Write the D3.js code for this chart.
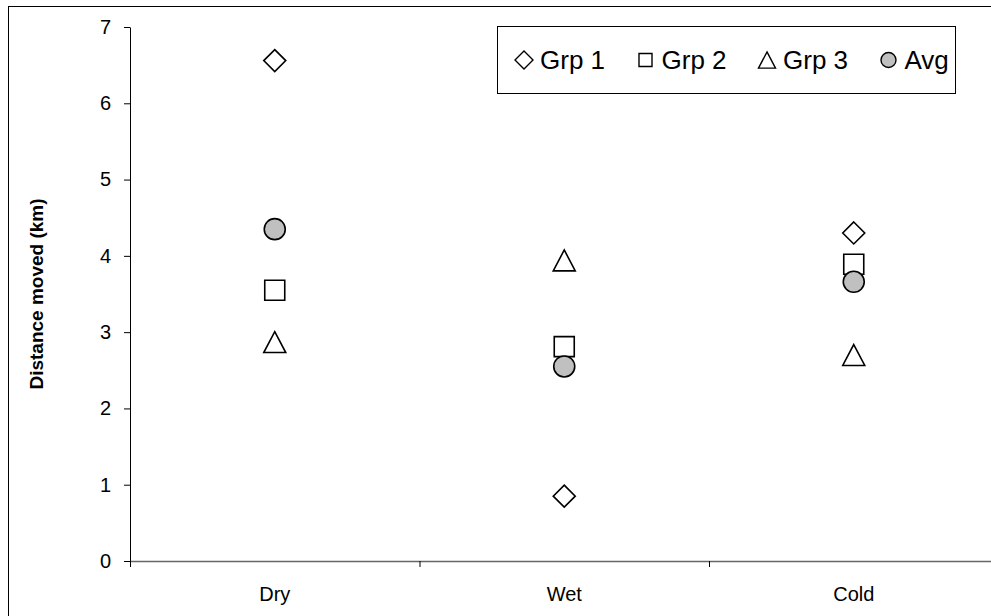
<!DOCTYPE html>
<html>
<head>
<meta charset="utf-8">
<script src="https://cdn.jsdelivr.net/npm/d3@7"></script>
<style>
  html, body { margin: 0; padding: 0; background: #fff; }
  svg { display: block; }
  text { font-family: "Liberation Sans", Arial, sans-serif; fill: #000; }
</style>
</head>
<body>
<svg id="chart" width="991" height="616"></svg>
<script>
// ---- data ----
const categories = ["Dry", "Wet", "Cold"];
const grp1 = [6.56, 0.85, 4.30];
const grp2 = [3.55, 2.81, 3.89];
const grp3 = [2.87, 3.94, 2.70];
const avg  = [4.35, 2.55, 3.66];
const yTicks = [0, 1, 2, 3, 4, 5, 6, 7];
const seriesNames = ["Grp 1", "Grp 2", "Grp 3", "Avg"];
const yTitle = "Distance moved (km)";

// ---- layout ----
const W = 991, H = 616;
const plot = { left: 130, right: 998.5, top: 27, bottom: 561 };

const svg = d3.select("#chart");
svg.append("rect").attr("width", W).attr("height", H).attr("fill", "#fff");

// outer chart frame (right/bottom edges lie outside the picture)
svg.append("rect")
  .attr("x", 8.5).attr("y", 6.5)
  .attr("width", 1000).attr("height", 700)
  .attr("fill", "none").attr("stroke", "#000").attr("stroke-width", 1);

const x = d3.scaleBand().domain(categories).range([plot.left, plot.right]).padding(0);
const xEdge = d3.scaleLinear().domain([0, categories.length]).range([plot.left, plot.right]);
const y = d3.scaleLinear().domain([0, 7]).range([plot.bottom, plot.top]);

// y axis
const gy = svg.append("g")
  .attr("transform", `translate(${plot.left},0)`)
  .call(d3.axisLeft(y).tickValues(yTicks).tickFormat(d3.format("d"))
        .tickSize(6).tickSizeOuter(0).tickPadding(13));
gy.select(".domain").attr("stroke", "#000");
gy.selectAll(".tick line").attr("stroke", "#000");
gy.selectAll("text").style("font-size", "20px").attr("fill", "#000");

// x axis: tick marks at category boundaries
const gxTicks = svg.append("g")
  .attr("transform", `translate(0,${plot.bottom})`)
  .call(d3.axisBottom(xEdge).tickValues(d3.range(categories.length + 1))
        .tickFormat("").tickSize(6).tickSizeOuter(0));
gxTicks.select(".domain").attr("stroke", "#666").attr("stroke-width", 1.6);
gxTicks.selectAll(".tick line").attr("stroke", "#000");

// x axis labels at category centres
const gx = svg.append("g")
  .attr("transform", `translate(0,${plot.bottom})`)
  .call(d3.axisBottom(x).tickSize(0).tickPadding(26));
gx.select(".domain").remove();
gx.selectAll("text").style("font-size", "20px").attr("fill", "#000");

// y title
svg.append("text")
  .attr("transform", `translate(43,${(plot.top + plot.bottom) / 2}) rotate(-90)`)
  .attr("text-anchor", "middle")
  .style("font-size", "19px").style("font-weight", "bold")
  .text(yTitle);

// ---- marker shapes ----
function shapePath(kind, s) {
  // s: nominal full size in px
  const h = s / 2;
  if (kind === "diamond") return `M0,${-h}L${h},0L0,${h}L${-h},0Z`;
  if (kind === "square") return `M${-h},${-h}H${h}V${h}H${-h}Z`;
  if (kind === "triangle") {
    const th = s * 0.95;
    return `M0,${-th / 2}L${h},${th / 2}L${-h},${th / 2}Z`;
  }
  return d3.arc()({ innerRadius: 0, outerRadius: h, startAngle: 0, endAngle: 2 * Math.PI });
}

const series = [
  { name: seriesNames[0], values: grp1, kind: "diamond",  size: 22, fill: "#fff" },
  { name: seriesNames[1], values: grp2, kind: "square",   size: 20, fill: "#fff" },
  { name: seriesNames[2], values: grp3, kind: "triangle", size: 22, fill: "#fff" },
  { name: seriesNames[3], values: avg,  kind: "circle",   size: 21, fill: "#c0c0c0" }
];

// draw points (avg drawn last, on top)
series.forEach(s => {
  svg.append("g").selectAll("path")
    .data(s.values.map((v, i) => ({ c: categories[i], v })))
    .join("path")
    .attr("transform", d => `translate(${x(d.c) + x.bandwidth() / 2},${y(d.v)})`)
    .attr("d", shapePath(s.kind, s.size))
    .attr("fill", s.fill)
    .attr("stroke", "#000")
    .attr("stroke-width", 1.6);
});

// ---- legend ----
const legend = svg.append("g");
legend.append("rect")
  .attr("x", 497.5).attr("y", 26.5).attr("width", 458).attr("height", 67)
  .attr("fill", "#fff").attr("stroke", "#000").attr("stroke-width", 1);

const legSizes = { diamond: 18, square: 13, triangle: 17, circle: 15 };
const legX0 = 524, legStep = 121.5, legY = 60;
series.forEach((s, i) => {
  const cx = legX0 + i * legStep;
  legend.append("path")
    .attr("transform", `translate(${cx},${legY})`)
    .attr("d", shapePath(s.kind, legSizes[s.kind]))
    .attr("fill", s.fill).attr("stroke", "#000").attr("stroke-width", 1.4);
  legend.append("text")
    .attr("x", cx + 16).attr("y", legY + 9)
    .style("font-size", "26px")
    .text(s.name);
});
</script>
</body>
</html>
